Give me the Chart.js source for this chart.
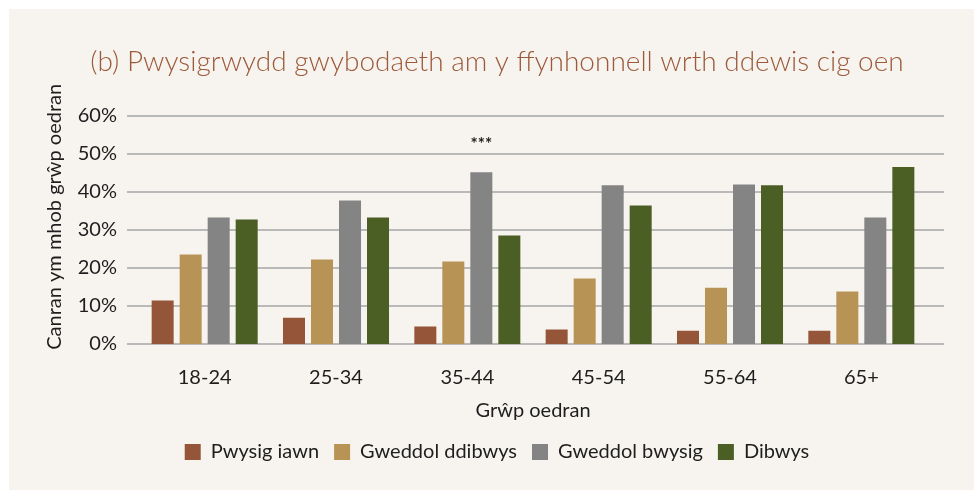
<!DOCTYPE html>
<html>
<head>
<meta charset="utf-8">
<script src="https://cdn.jsdelivr.net/npm/chart.js@4.4.1/dist/chart.umd.min.js"></script>
<style>
  body { margin: 0; background: #ffffff; }
  #panel { position: absolute; left: 9px; top: 9px; width: 965px; height: 481px; background: #f7f4ef; }
</style>
</head>
<body>
<div id="panel"><canvas id="chart" width="965" height="481"></canvas></div>
<script>
// Data
const categories = ['18-24', '25-34', '35-44', '45-54', '55-64', '65+'];
const pwysigIawn = [11.4, 6.9, 4.6, 3.8, 3.5, 3.5];
const gweddolDdibwys = [23.5, 22.2, 21.7, 17.2, 14.8, 13.8];
const gweddolBwysig = [33.2, 37.7, 45.1, 41.7, 41.9, 33.2];
const dibwys = [32.7, 33.2, 28.5, 36.4, 41.7, 46.5];
const yTicks = [0, 10, 20, 30, 40, 50, 60];

const textColor = '#1e1e1e';
const baseFont = { family: 'Lato', size: 20 };

// Horizontal gridlines, a little wider than the bar area
const gridPlugin = {
    id: 'wideGrid',
    beforeDatasetsDraw(chart) {
        const { ctx, chartArea, scales } = chart;
        ctx.save();
        ctx.strokeStyle = '#b9b9b9';
        ctx.lineWidth = 2;
        yTicks.forEach(v => {
            const y = Math.round(scales.y.getPixelForValue(v));
            ctx.beginPath();
            ctx.moveTo(chartArea.left - 12, y);
            ctx.lineTo(chartArea.right + 17, y);
            ctx.stroke();
        });
        ctx.restore();
    }
};

// Y axis title and the *** marker
const extrasPlugin = {
    id: 'extras',
    afterDraw(chart) {
        const { ctx, chartArea } = chart;
        ctx.save();
        ctx.fillStyle = textColor;
        ctx.font = '20px Lato';
        ctx.textAlign = 'center';
        ctx.textBaseline = 'middle';
        ctx.translate(46, (chartArea.top + chartArea.bottom) / 2 - 13);
        ctx.rotate(-Math.PI / 2);
        ctx.fillText('Canran ym mhob grŵp oedran', 0, 0);
        ctx.restore();

        const bar = chart.getDatasetMeta(2).data[2];
        ctx.save();
        ctx.fillStyle = textColor;
        ctx.font = 'bold 17px Lato';
        ctx.textAlign = 'center';
        ctx.textBaseline = 'middle';
        ctx.fillText('***', bar.x, bar.y - 28);
        ctx.restore();
    }
};

new Chart(document.getElementById('chart'), {
    type: 'bar',
    data: {
        labels: categories,
        datasets: [
            { label: 'Pwysig iawn', data: pwysigIawn, backgroundColor: '#955539' },
            { label: 'Gweddol ddibwys', data: gweddolDdibwys, backgroundColor: '#b79356' },
            { label: 'Gweddol bwysig', data: gweddolBwysig, backgroundColor: '#848484' },
            { label: 'Dibwys', data: dibwys, backgroundColor: '#4b5e24' }
        ]
    },
    options: {
        responsive: false,
        devicePixelRatio: 1,
        animation: false,
        categoryPercentage: 0.853,
        barPercentage: 0.786,
        layout: { padding: { left: 58, right: 47, top: 0, bottom: 18 } },
        plugins: {
            title: {
                display: true,
                text: '(b) Pwysigrwydd gwybodaeth am y ffynhonnell wrth ddewis cig oen',
                color: '#9c5a3b',
                font: { family: 'Lato', size: 28, weight: '300' },
                padding: { top: 36, bottom: 37 }
            },
            legend: {
                position: 'bottom',
                labels: {
                    color: textColor,
                    font: baseFont,
                    boxWidth: 16,
                    boxHeight: 16,
                    padding: 15
                }
            },
            tooltip: { enabled: false }
        },
        scales: {
            x: {
                grid: { display: false, drawTicks: false },
                border: { display: false },
                ticks: { color: textColor, font: baseFont, padding: 22 },
                title: {
                    display: true,
                    text: 'Grŵp oedran',
                    color: textColor,
                    font: baseFont,
                    padding: { top: 4, bottom: 4 }
                },
                afterFit(scale) { scale.height = 83; }
            },
            y: {
                min: 0,
                max: 60,
                grid: { display: false, drawTicks: false },
                border: { display: false },
                ticks: {
                    stepSize: 10,
                    color: textColor,
                    font: baseFont,
                    padding: 22,
                    callback: v => v + '%'
                },
                afterFit(scale) { scale.width = 72; }
            }
        }
    },
    plugins: [gridPlugin, extrasPlugin]
});
</script>
</body>
</html>
